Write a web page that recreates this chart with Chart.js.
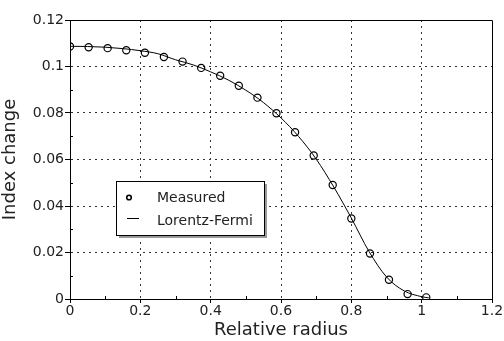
<!DOCTYPE html>
<html>
<head>
<meta charset="utf-8">
<script src="https://cdn.jsdelivr.net/npm/chart.js@4/dist/chart.umd.min.js"></script>
<style>
  html, body { margin: 0; padding: 0; background: #fff; }
  #wrap { position: relative; width: 504px; height: 341px; }
</style>
</head>
<body>
<div id="wrap"><canvas id="grafico" width="504" height="341"></canvas></div>
<script>
// Datos

const radioMedido = [0, 0.053, 0.107, 0.16, 0.213, 0.267, 0.32, 0.373, 0.427, 0.48,
  0.533, 0.587, 0.64, 0.693, 0.747, 0.8, 0.853, 0.907, 0.96, 1.013];
const indiceMedido = [0.1086, 0.1083, 0.1079, 0.107, 0.1059, 0.1041, 0.1021, 0.0994, 0.096, 0.0917,
  0.0866, 0.0799, 0.0717, 0.0617, 0.049, 0.0346, 0.0196, 0.0083, 0.0021, 0.0007];

const radioAjuste = [0, 0.05, 0.1, 0.15, 0.2, 0.25, 0.3, 0.35, 0.4, 0.45, 0.5,
  0.55, 0.6, 0.65, 0.7, 0.75, 0.8, 0.85, 0.9, 0.95, 1.0, 1.02];
const indiceAjuste = [0.1087, 0.1086, 0.1083, 0.1077, 0.1068, 0.1055, 0.1029, 0.1007, 0.0977, 0.0942, 0.0898,
  0.0845, 0.0779, 0.0699, 0.0602, 0.0482, 0.0348, 0.0205, 0.0095, 0.0035, 0.001, 0.0005];

const xTicks = [0, 0.2, 0.4, 0.6, 0.8, 1, 1.2];
const yTicks = [0, 0.02, 0.04, 0.06, 0.08, 0.1, 0.12];
const xMinor = [0.1, 0.3, 0.5, 0.7, 0.9, 1.1];
const yMinor = [0.01, 0.03, 0.05, 0.07, 0.09, 0.11];

const etiquetas = ["Measured", "Lorentz-Fermi"];

const fuente = "'DejaVu Sans', Verdana, sans-serif";
const colorTexto = "#222";

// Marco, ticks menores y leyenda

const marcoPlugin = {
  id: "marco",
  afterDraw(chart) {
    const ctx = chart.ctx;
    const area = chart.chartArea;
    const sx = chart.scales.x;
    const sy = chart.scales.y;

    ctx.save();
    ctx.strokeStyle = "#000";
    ctx.lineWidth = 1;
    ctx.beginPath();
    ctx.moveTo(area.left, area.top + 0.5);
    ctx.lineTo(area.right + 0.5, area.top + 0.5);
    ctx.lineTo(area.right + 0.5, area.bottom);
    ctx.stroke();

    ctx.beginPath();
    xMinor.forEach((v) => {
      const px = Math.round(sx.getPixelForValue(v)) + 0.5;
      ctx.moveTo(px, area.bottom);
      ctx.lineTo(px, area.bottom - 3);
    });
    yMinor.forEach((v) => {
      const py = Math.round(sy.getPixelForValue(v)) + 0.5;
      ctx.moveTo(area.left, py);
      ctx.lineTo(area.left + 3, py);
    });
    ctx.stroke();

    // leyenda
    const lx = 116, ly = 181, lw = 148, lh = 54;
    ctx.fillStyle = "#999";
    ctx.fillRect(lx + 3, ly + 3, lw, lh);
    ctx.fillStyle = "#fff";
    ctx.fillRect(lx, ly, lw, lh);
    ctx.strokeStyle = "#000";
    ctx.strokeRect(lx + 0.5, ly + 0.5, lw, lh);

    ctx.lineWidth = 1.6;
    ctx.beginPath();
    ctx.arc(129, 197.5, 2.3, 0, Math.PI * 2);
    ctx.stroke();
    ctx.lineWidth = 1;
    ctx.beginPath();
    ctx.moveTo(127, 218.5);
    ctx.lineTo(139, 218.5);
    ctx.stroke();

    ctx.fillStyle = colorTexto;
    ctx.font = "14px " + fuente;
    ctx.textBaseline = "middle";
    ctx.textAlign = "left";
    ctx.fillText(etiquetas[0], 157, 198);
    ctx.fillText(etiquetas[1], 157, 221);
    ctx.restore();
  },
};

const contexto = document.getElementById("grafico").getContext("2d");

new Chart(contexto, {
  type: "scatter",
  data: {
    datasets: [
      {
        label: etiquetas[0],
        data: radioMedido.map((r, i) => ({ x: r, y: indiceMedido[i] })),
        showLine: false,
        pointStyle: "circle",
        pointRadius: 3.6,
        pointBorderWidth: 1.2,
        pointBorderColor: "#000",
        pointBackgroundColor: "rgba(255,255,255,0)",
        order: 1,
      },
      {
        label: etiquetas[1],
        data: radioAjuste.map((r, i) => ({ x: r, y: indiceAjuste[i] })),
        showLine: true,
        borderColor: "#000",
        borderWidth: 1,
        pointRadius: 0,
        cubicInterpolationMode: "monotone",
        order: 2,
      },
    ],
  },
  options: {
    responsive: false,
    animation: false,
    layout: { padding: { top: 20, right: 12, left: 0, bottom: 0 } },
    plugins: {
      legend: { display: false },
      tooltip: { enabled: false },
    },
    scales: {
      x: {
        type: "linear",
        min: 0,
        max: 1.2,
        afterBuildTicks: (s) => { s.ticks = xTicks.map((v) => ({ value: v })); },
        afterFit: (s) => { s.height = 42; },
        ticks: {
          color: colorTexto,
          font: { family: fuente, size: 14 },
          padding: 0,
          maxRotation: 0,
          callback: (v) => String(Number(v.toFixed(2))),
        },
        grid: {
          color: (c) => (c.tick && (c.tick.value === 0 || c.tick.value === 1.2) ? "rgba(0,0,0,0)" : "#333"),
          lineWidth: 1,
          tickLength: 4,
          tickColor: "#000",
          tickBorderDash: [],
        },
        border: { display: true, color: "#000", width: 1, dash: [2, 4] },
        title: {
          display: true,
          text: "Relative radius",
          color: colorTexto,
          font: { family: fuente, size: 18 },
          padding: { top: 0, bottom: 0 },
        },
      },
      y: {
        type: "linear",
        min: 0,
        max: 0.12,
        afterBuildTicks: (s) => { s.ticks = yTicks.map((v) => ({ value: v })); },
        afterFit: (s) => { s.width = 70; },
        ticks: {
          color: colorTexto,
          font: { family: fuente, size: 14 },
          padding: 1,
          callback: (v) => String(Number(v.toFixed(3))),
        },
        grid: {
          color: (c) => (c.tick && (c.tick.value === 0 || c.tick.value === 0.12) ? "rgba(0,0,0,0)" : "#333"),
          lineWidth: 1,
          tickLength: 5,
          tickColor: "#000",
          tickBorderDash: [],
        },
        border: { display: true, color: "#000", width: 1, dash: [2, 4] },
        title: {
          display: true,
          text: "Index change",
          color: colorTexto,
          font: { family: fuente, size: 18 },
          padding: { top: 0, bottom: 0 },
        },
      },
    },
  },
  plugins: [marcoPlugin],
});
</script>
</body>
</html>
